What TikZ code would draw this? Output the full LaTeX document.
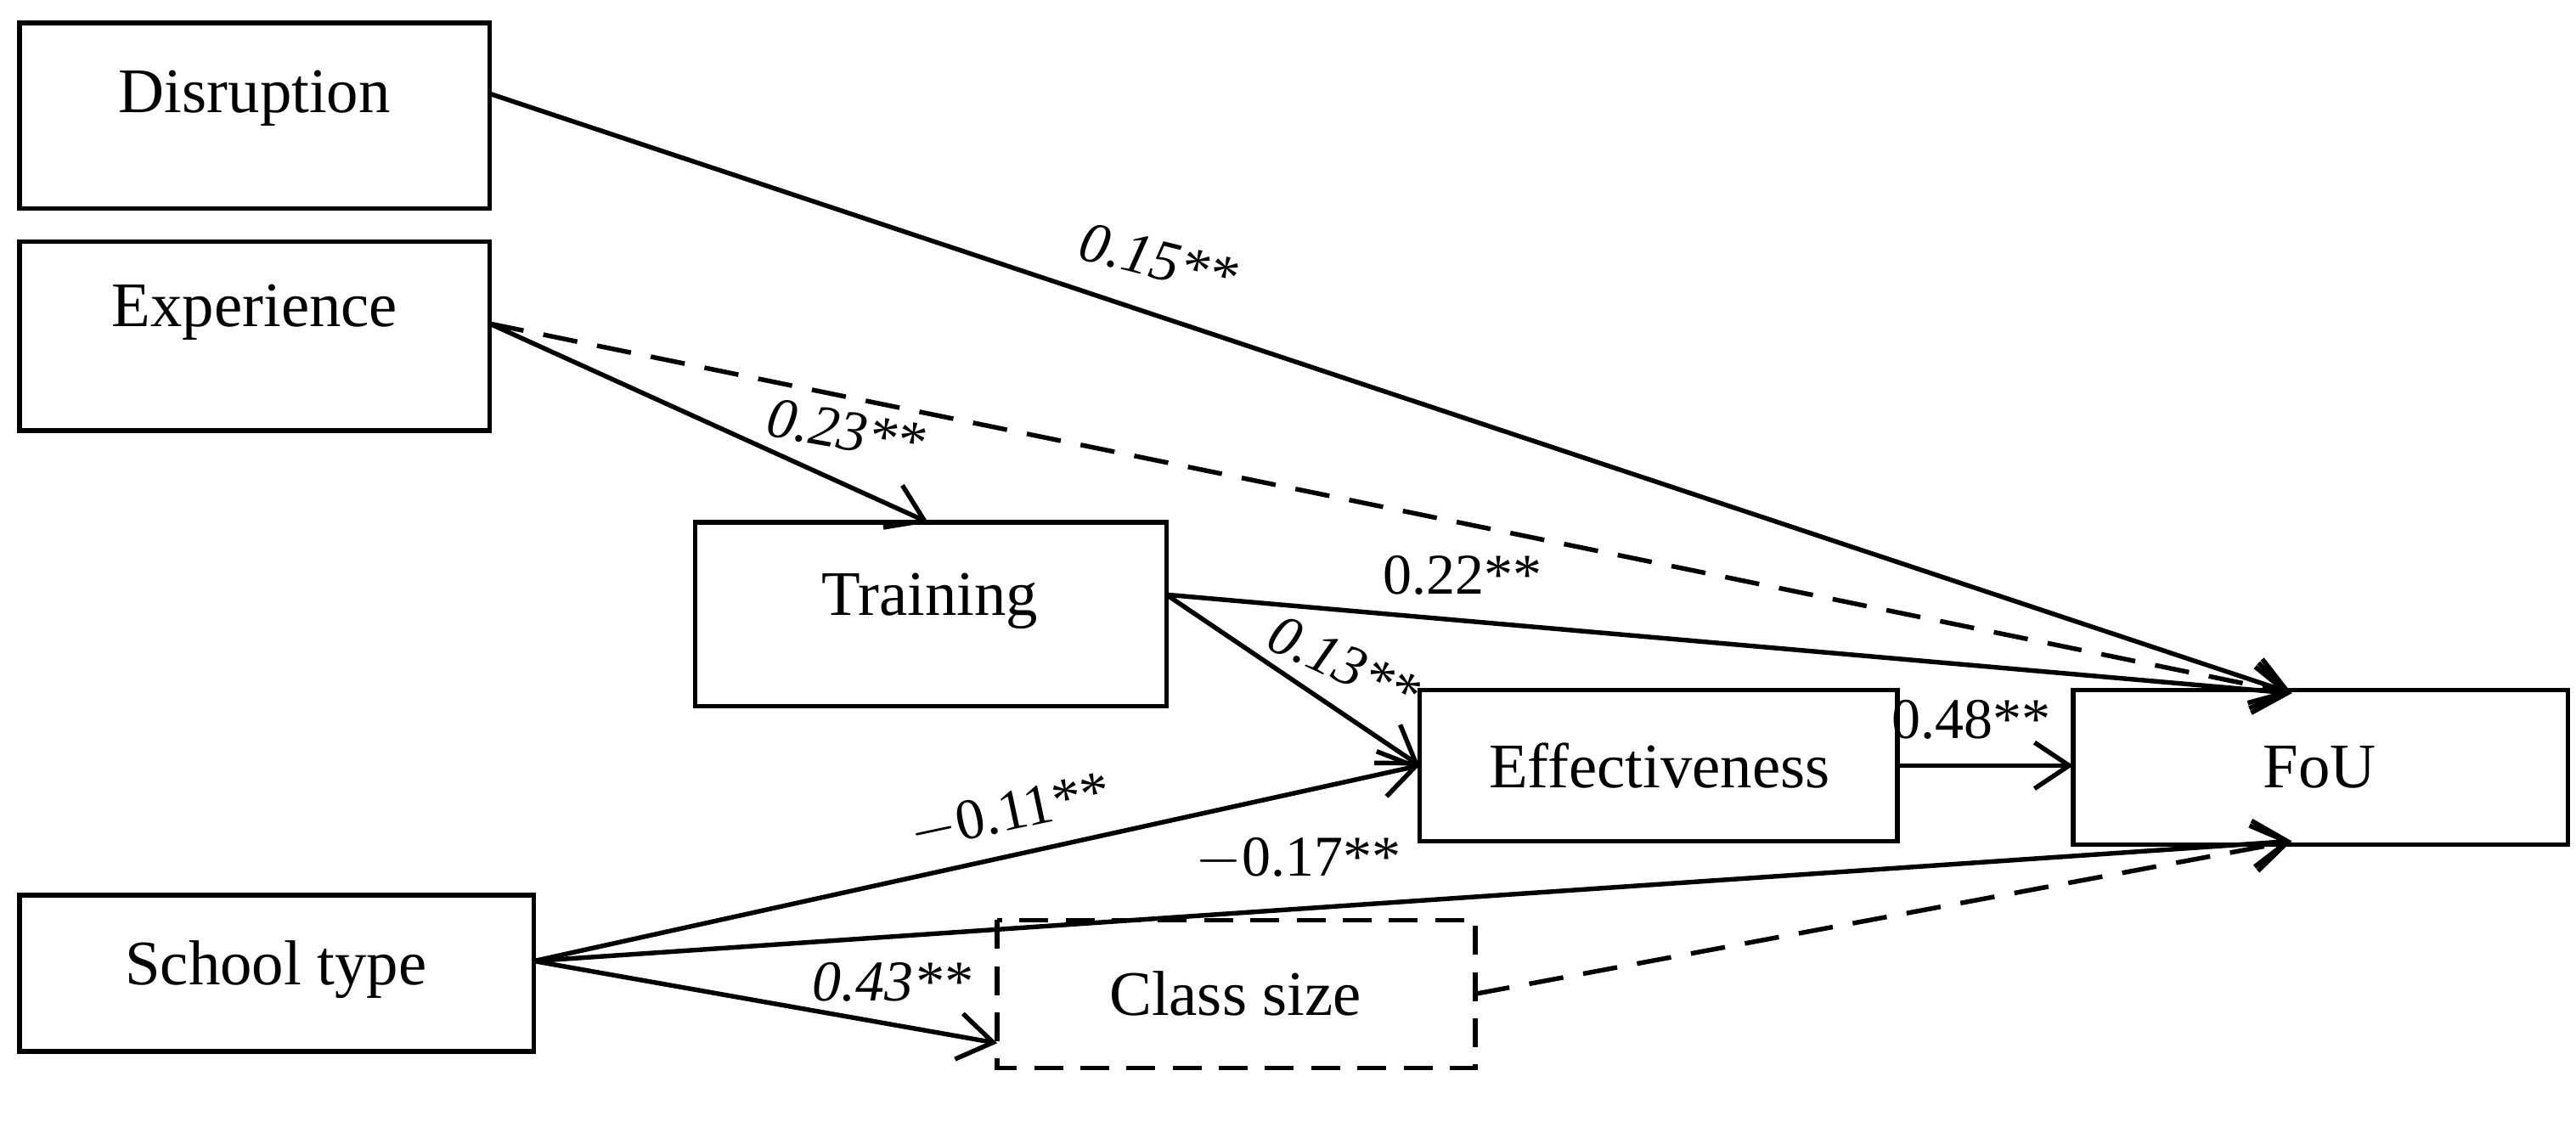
\documentclass[tikz,border=0pt]{standalone}
\usepackage{fontspec}
\setmainfont{Liberation Serif}
\usetikzlibrary{arrows.meta}
\begin{document}
\begin{tikzpicture}[x=0.02cm,y=-0.02cm,
 box/.style={draw,line width=1.6pt,inner sep=0pt,font=\fontsize{22}{24}\selectfont},
 arr/.style={line width=1.6pt,-{Straight Barb[length=12pt,width=16pt,line width=1.6pt]}},
 lab/.style={font=\fontsize{20}{22}\selectfont},
 ilab/.style={font=\fontsize{20}{22}\selectfont\itshape}]
\useasboundingbox (0,0) rectangle (1568,696);
\draw[box] (12,14) rectangle (298,127); \node[box,draw=none] (dis) at (155,60) {Disruption};
\draw[box] (12,147) rectangle (298,262); \node[box,draw=none] (exp) at (155,190) {Experience};
\draw[box] (423,318) rectangle (710,430); \node[box,draw=none] (tra) at (566,366) {Training};
\draw[box] (864,420) rectangle (1155,512); \node[box,draw=none] (eff) at (1010,466) {Effectiveness};
\draw[box] (1262,420) rectangle (1563,514); \node[box,draw=none] (fou) at (1412,467) {FoU};
\draw[box] (12,545) rectangle (325,640); \node[box,draw=none] (sch) at (168,590) {School type};
\draw[box,dashed,dash pattern=on 10pt off 6pt] (607,560) rectangle (898,650); \node[box,draw=none] (cls) at (752,605) {Class size};
\coordinate (disR) at (298,57);
\coordinate (expR) at (298,197);
\coordinate (fouT) at (1395,422);
\coordinate (fouB) at (1395,512);
\coordinate (fouL) at (1262,466);
\coordinate (traT) at (565,318);
\coordinate (traR) at (710,362);
\coordinate (effL) at (864,466);
\coordinate (effR) at (1155,466);
\coordinate (schR) at (325,585);
\coordinate (clsL) at (607,635);
\coordinate (clsR) at (898,605);
\draw[arr] (disR) -- (fouT);
\draw[arr,dashed,dash pattern=on 12pt off 7pt] (expR) -- (fouT);
\draw[arr] (expR) -- (traT);
\draw[arr] (traR) -- (fouT);
\draw[arr] (traR) -- (effL);
\draw[arr] (effR) -- (fouL);
\draw[arr] (schR) -- (effL);
\draw[arr] (schR) -- (fouB);
\draw[arr] (schR) -- (clsL);
\draw[arr,dashed,dash pattern=on 12pt off 7pt] (clsR) -- (fouB);
\node[ilab,rotate=-14] (l1) at (705,158) {0.15**};
\node[ilab,rotate=-10] (l2) at (515,262) {0.23**};
\node[lab] (l3) at (890,350) {0.22**};
\node[ilab,rotate=-25] (l4) at (818,404) {0.13**};
\node[lab] (l5) at (1200,438) {0.48**};
\node[lab,rotate=12] (l6) at (615,495) {$-$0.11**};
\node[lab] (l7) at (790,523) {$-$0.17**};
\node[ilab] (l8) at (543,598) {0.43**};
\end{tikzpicture}
\end{document}
